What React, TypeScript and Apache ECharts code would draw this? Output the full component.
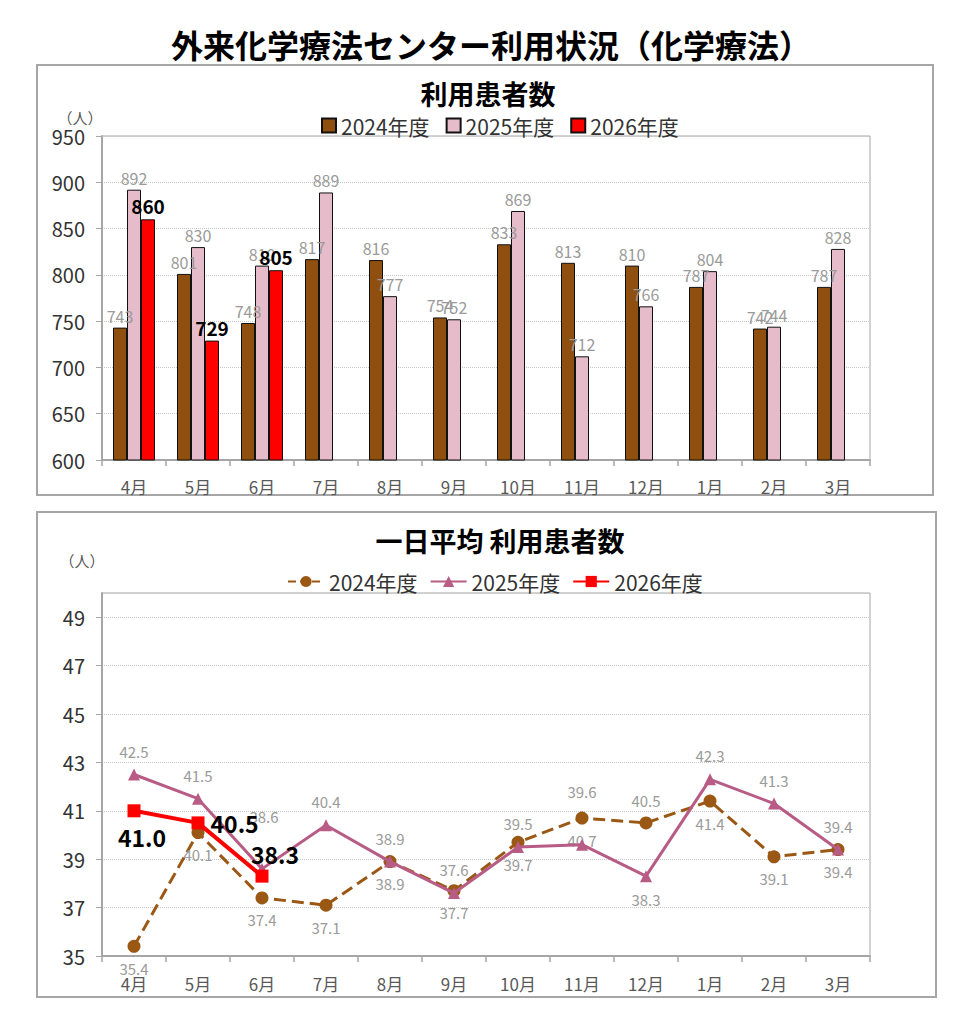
import React, { useEffect, useRef } from "react";
import * as echarts from "echarts";

const months = ["4月", "5月", "6月", "7月", "8月", "9月", "10月", "11月", "12月", "1月", "2月", "3月"];
const yearNames = ["2024年度", "2025年度", "2026年度"];

const patients2024 = [743, 801, 748, 817, 816, 754, 833, 813, 810, 787, 742, 787];
const patients2025 = [892, 830, 810, 889, 777, 752, 869, 712, 766, 804, 744, 828];
const patients2026 = [860, 729, 805, null, null, null, null, null, null, null, null, null];

const daily2024 = [35.4, 40.1, 37.4, 37.1, 38.9, 37.7, 39.7, 40.7, 40.5, 41.4, 39.1, 39.4];
const daily2025 = [42.5, 41.5, 38.6, 40.4, 38.9, 37.6, 39.5, 39.6, 38.3, 42.3, 41.3, 39.4];
const daily2026 = [41.0, 40.5, 38.3, null, null, null, null, null, null, null, null, null];

const FONT = "'Noto Sans CJK JP', 'Noto Sans', sans-serif";
const C2024 = "#8F4F0E";
const C2025 = "#E6BCCB";
const C2026 = "#FF0000";
const L2024 = "#9A5814";
const L2025 = "#B85C86";
const GRAY_LABEL = "#9a9a9a";
const AXIS_GRAY = "#A6A6A6";

// label placement (style only)
const pos2024 = ["bottom", "bottom", "bottom", "bottom", "bottom", "bottom", "bottom", "bottom", "top", "bottom", "bottom", "bottom"];
const pos2025 = ["top", "top", "top", "top", "top", "top", "top", "top", "bottom", "top", "top", "top"];
const off2025 = [[0, 0], [0, 0], [2, -29], [0, 0], [0, 0], [0, 0], [0, 0], [0, -30], [0, 0], [0, 0], [0, 0], [0, 0]];
const pos2026 = ["bottom", "right", "top"];
const off2026 = [[8, 2], [0, 0], [13, 2]];

export default function App() {
  const ref = useRef<HTMLDivElement>(null);
  useEffect(() => {
    if (!ref.current) return;
    const chart = echarts.init(ref.current, undefined, { renderer: "svg" });
    const lineName = (n: string) => n + " ";
    const fmt1 = (p: any) => Number(p.value).toFixed(1);

    const valueAxisCommon = {
      type: "value",
      axisLine: { show: true, lineStyle: { color: AXIS_GRAY, width: 2 } },
      axisTick: { show: true, length: 6, lineStyle: { color: AXIS_GRAY, width: 1 } },
      axisLabel: { color: "#333", fontSize: 20, fontFamily: FONT, margin: 17 },
      splitLine: { show: true, lineStyle: { color: "#C8C8C8", type: "dotted", width: 1 } },
    };
    const catAxisCommon = {
      type: "category",
      data: months,
      boundaryGap: true,
      axisLine: { show: true, lineStyle: { color: AXIS_GRAY, width: 2 } },
      axisTick: { show: true, length: 6, alignWithLabel: false, lineStyle: { color: AXIS_GRAY, width: 1.5 } },
      axisLabel: { color: "#595959", fontSize: 17, fontFamily: FONT, margin: 18 },
    };

    chart.setOption({
      animation: false,
      backgroundColor: "#ffffff",
      textStyle: { fontFamily: FONT },
      graphic: [
        { type: "rect", shape: { x: 37, y: 65, width: 896, height: 430 }, style: { fill: "none", stroke: AXIS_GRAY, lineWidth: 2 }, silent: true },
        { type: "rect", shape: { x: 37, y: 512, width: 899, height: 485 }, style: { fill: "none", stroke: AXIS_GRAY, lineWidth: 2 }, silent: true },
        { type: "text", x: 491, y: 44, style: { text: "外来化学療法センター利用状況（化学療法）", fontSize: 32, fontWeight: "bold", fontFamily: FONT, fill: "#000", align: "center", verticalAlign: "middle" } },
        { type: "text", x: 488, y: 93, style: { text: "利用患者数", fontSize: 27, fontWeight: "bold", fontFamily: FONT, fill: "#000", align: "center", verticalAlign: "middle" } },
        { type: "text", x: 500, y: 540, style: { text: "一日平均 利用患者数", fontSize: 27, fontWeight: "bold", fontFamily: FONT, fill: "#000", align: "center", verticalAlign: "middle" } },
        { type: "text", x: 80, y: 117, style: { text: "（人）", fontSize: 15, fontFamily: FONT, fill: "#595959", align: "center", verticalAlign: "middle" } },
        { type: "text", x: 82, y: 560, style: { text: "（人）", fontSize: 15, fontFamily: FONT, fill: "#595959", align: "center", verticalAlign: "middle" } },
      ],
      legend: [
        {
          data: yearNames,
          left: 316,
          top: 110,
          itemWidth: 14,
          itemHeight: 14,
          itemGap: 16,
          icon: "rect",
          textStyle: { fontSize: 21, color: "#333", fontFamily: FONT },
          selectedMode: false,
        },
        {
          data: yearNames.map(lineName),
          formatter: (n: string) => n.trim(),
          left: 282,
          top: 566,
          itemWidth: 36,
          itemHeight: 14,
          itemGap: 12,
          textStyle: { fontSize: 21, color: "#333", fontFamily: FONT },
          selectedMode: false,
        },
      ],
      grid: [
        { left: 102, top: 136, width: 768, height: 324, show: true, borderColor: AXIS_GRAY, borderWidth: 1, backgroundColor: "transparent" },
        { left: 102, top: 593, width: 768, height: 363, show: true, borderColor: AXIS_GRAY, borderWidth: 1, backgroundColor: "transparent" },
      ],
      xAxis: [
        { ...catAxisCommon, gridIndex: 0 },
        { ...catAxisCommon, gridIndex: 1, axisLabel: { ...catAxisCommon.axisLabel, margin: 19 } },
      ],
      yAxis: [
        { ...valueAxisCommon, gridIndex: 0, min: 600, max: 950, interval: 50 },
        { ...valueAxisCommon, gridIndex: 1, min: 35, max: 50, interval: 2, axisLabel: { ...valueAxisCommon.axisLabel, showMaxLabel: false } },
      ],
      series: [
        {
          type: "bar", name: yearNames[0], xAxisIndex: 0, yAxisIndex: 0, data: patients2024,
          barWidth: 14, barGap: "0%",
          itemStyle: { color: C2024, borderColor: "#111", borderWidth: 1 },
          label: { show: true, position: "top", color: GRAY_LABEL, fontSize: 16, fontFamily: FONT, distance: 4 },
        },
        {
          type: "bar", name: yearNames[1], xAxisIndex: 0, yAxisIndex: 0, data: patients2025,
          barWidth: 14, barGap: "0%",
          itemStyle: { color: C2025, borderColor: "#111", borderWidth: 1 },
          label: { show: true, position: "top", color: GRAY_LABEL, fontSize: 16, fontFamily: FONT, distance: 4 },
        },
        {
          type: "bar", name: yearNames[2], xAxisIndex: 0, yAxisIndex: 0, data: patients2026,
          barWidth: 14, barGap: "0%",
          itemStyle: { color: C2026, borderColor: "#111", borderWidth: 1 },
          label: { show: true, position: "top", color: "#000", fontSize: 19, fontWeight: "bold", fontFamily: FONT, distance: 4 },
          z: 3,
        },
        {
          type: "line", name: lineName(yearNames[0]), xAxisIndex: 1, yAxisIndex: 1,
          data: daily2024.map((v, i) => ({ value: v, label: { position: pos2024[i] } })),
          symbol: "circle", symbolSize: 13,
          lineStyle: { color: L2024, width: 3, type: "dashed" },
          itemStyle: { color: L2024 },
          label: { show: true, color: GRAY_LABEL, fontSize: 15, fontFamily: FONT, distance: 8, formatter: fmt1 },
          z: 2,
        },
        {
          type: "line", name: lineName(yearNames[1]), xAxisIndex: 1, yAxisIndex: 1,
          data: daily2025.map((v, i) => ({ value: v, label: { position: pos2025[i], offset: off2025[i] } })),
          symbol: "triangle", symbolSize: 12,
          lineStyle: { color: L2025, width: 3 },
          itemStyle: { color: L2025 },
          label: { show: true, color: GRAY_LABEL, fontSize: 15, fontFamily: FONT, distance: 10, formatter: fmt1 },
          z: 3,
        },
        {
          type: "line", name: lineName(yearNames[2]), xAxisIndex: 1, yAxisIndex: 1,
          data: daily2026.map((v, i) => v === null ? null : {
            value: v,
            label: { position: pos2026[i], offset: off2026[i] },
          }),
          symbol: "rect", symbolSize: 13,
          lineStyle: { color: C2026, width: 4 },
          itemStyle: { color: C2026 },
          label: { show: true, color: "#000", fontSize: 23, fontWeight: "bold", fontFamily: FONT, distance: 6, formatter: fmt1 },
          z: 4,
        },
      ],
    });
    return () => chart.dispose();
  }, []);
  return (
    <div
      ref={ref}
      style={{ position: "absolute", left: 0, top: 0, width: 973, height: 1024 }}
    />
  );
}
